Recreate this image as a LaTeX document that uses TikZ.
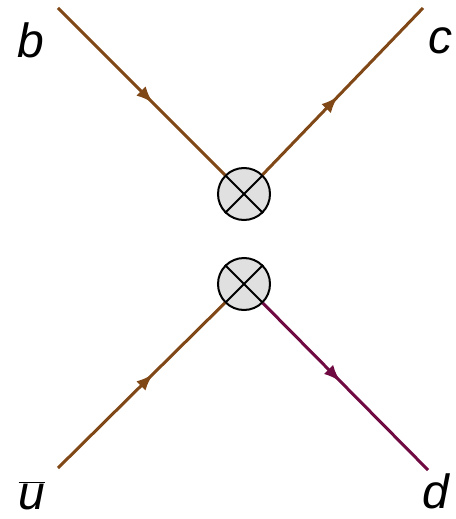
\documentclass[tikz,border=0pt]{standalone}
\usepackage{fontspec}
\setmainfont{Liberation Sans}
\usetikzlibrary{decorations.markings,arrows.meta}
\definecolor{quarkbrown}{RGB}{128,72,22}
\definecolor{quarkpurple}{RGB}{112,10,66}

\begin{document}
\begin{tikzpicture}[x=1pt, y=-1pt, line width=3pt,
  fermion/.style={draw=#1, postaction={decorate},
    decoration={markings, mark=at position 0.57 with
      {\arrow{Latex[length=17pt,width=13pt]}}}},
  fermionout/.style={draw=#1, postaction={decorate},
    decoration={markings, mark=at position 0.47 with
      {\arrow{Latex[length=17pt,width=13pt]}}}},
  vertex/.style={circle, draw=black, fill=black!12, line width=2pt,
    minimum size=52pt, inner sep=0pt},
  flavour/.style={font=\fontsize{48}{56}\selectfont\itshape, anchor=base,
    inner sep=1pt}]
\useasboundingbox (0,0) rectangle (455,519);
% the two four-fermion vertices
\node[vertex] (vtop) at (244,194) {};
\node[vertex] (vbot) at (244,284) {};
\foreach \v in {vtop,vbot}{
  \draw[line width=2pt] (\v.north west) -- (\v.south east);
  \draw[line width=2pt] (\v.north east) -- (\v.south west);
}
% free ends of the quark lines
\coordinate (bend) at (58,8);
\coordinate (cend) at (423,8);
\coordinate (uend) at (58,468);
\coordinate (dend) at (428,470);
\draw[fermion=quarkbrown] (bend) -- (vtop);
\draw[fermionout=quarkbrown] (vtop) -- (cend);
\draw[fermion=quarkbrown] (uend) -- (vbot);
\draw[fermionout=quarkpurple] (vbot) -- (dend);
% flavour labels
\node[flavour] (lb) at (31,57) {b};
\node[flavour] (lc) at (440,53) {c};
\node[flavour] (lu) at (32,509) {$\overline{\mbox{\itshape u}}$};
\node[flavour] (ld) at (436,508) {d};
\end{tikzpicture}
\end{document}
